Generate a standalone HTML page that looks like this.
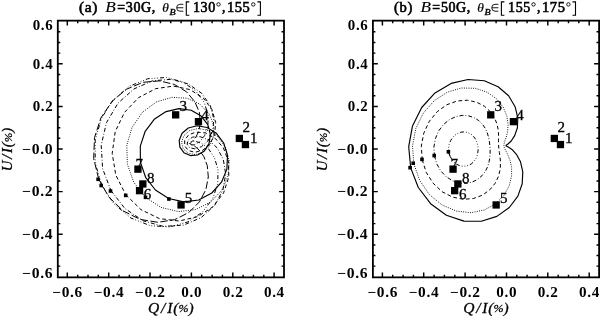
<!DOCTYPE html>
<html><head><meta charset="utf-8"><title>Hanle diagrams</title>
<style>html,body{margin:0;padding:0;background:#fff}svg{display:block;will-change:transform}text{font-family:"Liberation Serif",serif;fill:#000}.b{font-size:13.8px;font-weight:bold;letter-spacing:0.6px}.bi{font-weight:bold;font-style:italic;font-size:13.7px}.ai{font-size:13.9px;font-style:italic;stroke:#000;stroke-width:0.28px}.n{font-size:14.6px;stroke:#000;stroke-width:0.3px}.m{font-size:13.9px;stroke:#000;stroke-width:0.6px;letter-spacing:0.6px}.mi{font-size:13.9px;font-style:italic;stroke:#000;stroke-width:0.12px}</style></head><body>
<svg width="600" height="316" viewBox="0 0 600 316">
<rect x="0" y="0" width="600" height="316" fill="#fff"/>
<g fill="none" stroke="#000" stroke-width="0.9" stroke-linejoin="round">
<polyline points="168.7,198.5 183.7,201.9 198.7,200.0 211.8,193.0 221.5,182.2 226.9,169.1 227.5,155.4 223.7,143.0 216.4,133.3 207.0,127.5 197.1,125.8 188.3,128.0 182.1,133.3 179.2,140.2 179.9,147.2 183.9,152.7 190.3,155.6 197.6,155.0 204.3,150.9 209.0,143.6 210.4,134.4 207.8,124.7 201.2,116.1 191.2,110.3 179.0,108.6 166.1,111.6 154.2,119.3 145.2,131.3 140.3,146.1 140.4,162.1 145.6,177.3 155.4,190.0 168.7,198.5" stroke-width="1.15"/>
<polyline points="145.5,197.3 161.0,207.4 178.4,211.6 195.6,209.6 210.7,202.0 221.9,190.2 228.1,175.7 229.2,160.8 225.4,147.2 217.9,136.7 208.2,130.4 198.2,128.5 189.5,130.6 183.7,135.8 181.6,142.4 183.2,148.8 188.2,153.3 195.4,154.6 203.2,152.1 209.8,145.7 213.7,136.2 213.7,124.9 209.0,113.6 199.8,104.1 187.0,98.2 171.9,97.3 156.3,102.0 142.5,112.2 132.2,127.1 126.8,145.1 127.4,164.3 133.8,182.4 145.5,197.3" stroke-dasharray="0.9 1.4" stroke-width="1.0"/>
<polyline points="125.7,194.6 140.9,209.6 159.4,218.6 179.0,221.0 197.6,216.7 212.9,206.8 223.6,192.9 228.8,177.0 228.5,161.4 223.4,147.9 215.1,138.2 205.3,132.9 195.9,132.1 188.6,134.9 184.7,140.1 184.7,145.9 188.3,150.5 194.8,152.3 202.5,150.4 209.7,144.4 214.6,134.8 215.7,122.6 212.0,109.7 203.3,98.0 190.0,89.6 173.5,86.1 155.6,88.7 138.5,97.7 124.4,112.5 115.2,131.7 112.2,153.4 115.8,175.1 125.7,194.6" stroke-dasharray="3.7 2.7" stroke-width="1.0"/>
<polyline points="110.9,190.5 124.9,208.5 143.1,220.8 163.5,226.4 183.5,225.1 201.2,217.6 214.7,205.3 222.9,190.0 225.7,174.1 223.3,159.4 217.1,147.8 208.8,140.1 200.1,136.7 192.7,137.1 188.2,140.1 187.1,144.2 189.6,147.6 194.8,148.8 201.5,146.7 208.1,140.6 212.8,131.0 213.8,118.8 210.3,105.5 201.6,93.2 188.3,83.9 171.3,79.3 152.5,80.8 134.0,88.9 118.0,103.2 106.5,122.6 101.2,145.2 102.6,168.6 110.9,190.5" stroke-dasharray="4 2 0.8 2" stroke-width="1.0"/>
<polyline points="101.7,185.2 114.1,204.1 130.9,218.0 150.2,225.7 169.9,226.9 187.9,221.9 202.6,212.0 212.7,198.6 217.7,183.9 218.0,169.6 214.4,157.5 208.3,148.5 201.3,143.2 195.1,141.2 190.8,141.8 189.3,143.5 190.7,145.0 194.5,144.8 199.6,141.8 204.6,135.6 207.9,126.4 208.1,114.8 204.2,102.4 195.6,90.8 182.6,81.9 166.2,77.5 147.9,78.7 129.7,86.1 113.6,99.5 101.6,118.0 95.2,139.9 95.2,163.1 101.7,185.2" stroke-dasharray="4 2 0.8 2 0.8 2 0.8 2" stroke-width="1.0"/>
<polyline points="98.7,179.1 108.9,197.1 123.2,210.9 140.1,219.4 157.8,222.3 174.6,219.7 188.8,212.5 199.4,201.9 205.9,189.6 208.3,177.0 207.3,165.7 203.8,156.5 199.2,150.1 194.7,146.2 191.4,144.4 189.9,143.7 190.5,142.9 192.7,141.0 195.9,137.1 198.9,130.9 200.4,122.3 199.3,112.1 194.7,101.5 186.4,91.7 174.3,84.4 159.5,80.9 143.0,82.3 126.6,89.2 112.0,101.3 100.9,117.9 94.5,137.6 93.7,158.7 98.7,179.1" stroke-dasharray="7.5 2.5" stroke-width="1.0"/>
</g>
<rect x="57.8" y="20.65" width="226.2" height="256.7" fill="none" stroke="#000" stroke-width="1.8"/>
<path d="M67.3,277.35v-4.9M67.3,20.65v4.9M77.7,277.35v-2.5M77.7,20.65v2.5M88.0,277.35v-2.5M88.0,20.65v2.5M98.3,277.35v-2.5M98.3,20.65v2.5M108.7,277.35v-4.9M108.7,20.65v4.9M119.0,277.35v-2.5M119.0,20.65v2.5M129.4,277.35v-2.5M129.4,20.65v2.5M139.7,277.35v-2.5M139.7,20.65v2.5M150.0,277.35v-4.9M150.0,20.65v4.9M160.4,277.35v-2.5M160.4,20.65v2.5M170.7,277.35v-2.5M170.7,20.65v2.5M181.1,277.35v-2.5M181.1,20.65v2.5M191.4,277.35v-4.9M191.4,20.65v4.9M201.7,277.35v-2.5M201.7,20.65v2.5M212.1,277.35v-2.5M212.1,20.65v2.5M222.4,277.35v-2.5M222.4,20.65v2.5M232.8,277.35v-4.9M232.8,20.65v4.9M243.1,277.35v-2.5M243.1,20.65v2.5M253.4,277.35v-2.5M253.4,20.65v2.5M263.8,277.35v-2.5M263.8,20.65v2.5M274.1,277.35v-4.9M274.1,20.65v4.9M57.8,266.1h2.5M284.0,266.1h-2.5M57.8,255.5h2.5M284.0,255.5h-2.5M57.8,244.9h2.5M284.0,244.9h-2.5M57.8,234.2h4.9M284.0,234.2h-4.9M57.8,223.6h2.5M284.0,223.6h-2.5M57.8,212.9h2.5M284.0,212.9h-2.5M57.8,202.2h2.5M284.0,202.2h-2.5M57.8,191.6h4.9M284.0,191.6h-4.9M57.8,181.0h2.5M284.0,181.0h-2.5M57.8,170.3h2.5M284.0,170.3h-2.5M57.8,159.7h2.5M284.0,159.7h-2.5M57.8,149.0h4.9M284.0,149.0h-4.9M57.8,138.3h2.5M284.0,138.3h-2.5M57.8,127.7h2.5M284.0,127.7h-2.5M57.8,117.0h2.5M284.0,117.0h-2.5M57.8,106.4h4.9M284.0,106.4h-4.9M57.8,95.8h2.5M284.0,95.8h-2.5M57.8,85.1h2.5M284.0,85.1h-2.5M57.8,74.4h2.5M284.0,74.4h-2.5M57.8,63.8h4.9M284.0,63.8h-4.9M57.8,53.1h2.5M284.0,53.1h-2.5M57.8,42.5h2.5M284.0,42.5h-2.5M57.8,31.8h2.5M284.0,31.8h-2.5" stroke="#000" stroke-width="1.45" fill="none"/>
<text x="67.6" y="296.6" class="b" text-anchor="middle" textLength="30.6" lengthAdjust="spacingAndGlyphs">−0.6</text>
<text x="109.0" y="296.6" class="b" text-anchor="middle" textLength="30.6" lengthAdjust="spacingAndGlyphs">−0.4</text>
<text x="150.3" y="296.6" class="b" text-anchor="middle" textLength="30.6" lengthAdjust="spacingAndGlyphs">−0.2</text>
<text x="191.7" y="296.6" class="b" text-anchor="middle" textLength="20.9" lengthAdjust="spacingAndGlyphs">0.0</text>
<text x="233.1" y="296.6" class="b" text-anchor="middle" textLength="20.9" lengthAdjust="spacingAndGlyphs">0.2</text>
<text x="274.4" y="296.6" class="b" text-anchor="middle" textLength="20.9" lengthAdjust="spacingAndGlyphs">0.4</text>
<text x="53.3" y="30.0" class="b" text-anchor="end" textLength="20.6" lengthAdjust="spacingAndGlyphs">0.6</text>
<text x="53.3" y="68.6" class="b" text-anchor="end" textLength="20.6" lengthAdjust="spacingAndGlyphs">0.4</text>
<text x="53.3" y="111.2" class="b" text-anchor="end" textLength="20.6" lengthAdjust="spacingAndGlyphs">0.2</text>
<text x="53.3" y="153.8" class="b" text-anchor="end" textLength="31.2" lengthAdjust="spacingAndGlyphs">−0.0</text>
<text x="53.3" y="196.4" class="b" text-anchor="end" textLength="31.2" lengthAdjust="spacingAndGlyphs">−0.2</text>
<text x="53.3" y="239.0" class="b" text-anchor="end" textLength="31.2" lengthAdjust="spacingAndGlyphs">−0.4</text>
<text x="53.3" y="277.6" class="b" text-anchor="end" textLength="31.2" lengthAdjust="spacingAndGlyphs">−0.6</text>
<text x="170.9" y="312.6" class="ai" text-anchor="middle" textLength="45.6" lengthAdjust="spacingAndGlyphs">Q<tspan dx="1.6">/</tspan><tspan dx="1.6">I</tspan><tspan dx="0.8">(</tspan><tspan font-size="10.8" dy="-0.4">%</tspan><tspan dy="0.4">)</tspan></text>
<text class="ai" text-anchor="middle" textLength="43.4" lengthAdjust="spacingAndGlyphs" transform="translate(12.2,149.5) rotate(-90)">U<tspan dx="1.6">/</tspan><tspan dx="1.6">I</tspan><tspan dx="0.8">(</tspan><tspan font-size="10.8" dy="-0.4">%</tspan><tspan dy="0.4">)</tspan></text>
<text x="79.0" y="11.7" class="m" textLength="18.9" lengthAdjust="spacingAndGlyphs">(a)</text>
<text x="105.3" y="11.7" class="mi" textLength="10.5" lengthAdjust="spacingAndGlyphs">B</text>
<text x="117.2" y="11.7" class="m" textLength="8.4" lengthAdjust="spacingAndGlyphs">=</text>
<text x="125.8" y="11.7" class="m" textLength="30.0" lengthAdjust="spacingAndGlyphs">30G,</text>
<text x="162.2" y="11.7" style="font-style:italic;font-size:11.5px;stroke:#000;stroke-width:0.2px" textLength="6.6" lengthAdjust="spacingAndGlyphs">θ</text>
<text x="169.5" y="15.0" style="font-style:italic;font-size:8.4px;stroke:#000;stroke-width:0.35px" textLength="6.1" lengthAdjust="spacingAndGlyphs">B</text>
<path d="M183.3,4.3h-3.4a3.2,3.4 0 0 0 0,6.9h3.4M176.8,7.75h6.5" fill="none" stroke="#000" stroke-width="0.9"/>
<path d="M189.3,1.9h-3v13.4h3" fill="none" stroke="#000" stroke-width="1.1"/>
<text x="193.0" y="11.7" class="m" textLength="22.8" lengthAdjust="spacingAndGlyphs">130</text>
<circle cx="218.5" cy="4.4" r="1.7" fill="none" stroke="#000" stroke-width="0.9"/>
<text x="222.0" y="11.7" class="m" textLength="4.0" lengthAdjust="spacingAndGlyphs">,</text>
<text x="226.9" y="11.7" class="m" textLength="23.6" lengthAdjust="spacingAndGlyphs">155</text>
<circle cx="253.3" cy="4.4" r="1.7" fill="none" stroke="#000" stroke-width="0.9"/>
<path d="M257.4,1.9h3v13.4h-3" fill="none" stroke="#000" stroke-width="1.1"/>
<text x="250.0" y="143.2" class="n" textLength="7.5" lengthAdjust="spacingAndGlyphs">1</text>
<text x="242.4" y="132.0" class="n" textLength="7.5" lengthAdjust="spacingAndGlyphs">2</text>
<text x="179.5" y="111.0" class="n" textLength="7.5" lengthAdjust="spacingAndGlyphs">3</text>
<text x="201.2" y="119.5" class="n" textLength="7.5" lengthAdjust="spacingAndGlyphs">4</text>
<text x="184.8" y="202.7" class="n" textLength="7.5" lengthAdjust="spacingAndGlyphs">5</text>
<text x="143.8" y="199.1" class="n" textLength="7.5" lengthAdjust="spacingAndGlyphs">6</text>
<text x="135.6" y="168.9" class="n" textLength="7.5" lengthAdjust="spacingAndGlyphs">7</text>
<text x="147.1" y="182.8" class="n" textLength="7.5" lengthAdjust="spacingAndGlyphs">8</text>
<rect x="241.8" y="140.9" width="7.3" height="7.3" fill="#000"/>
<rect x="235.7" y="134.8" width="7.3" height="7.3" fill="#000"/>
<rect x="172.0" y="111.2" width="7.3" height="7.3" fill="#000"/>
<rect x="194.8" y="118.0" width="7.3" height="7.3" fill="#000"/>
<rect x="177.4" y="201.3" width="7.3" height="7.3" fill="#000"/>
<rect x="135.9" y="187.0" width="7.3" height="7.3" fill="#000"/>
<rect x="134.3" y="165.5" width="7.3" height="7.3" fill="#000"/>
<rect x="139.2" y="180.3" width="7.3" height="7.3" fill="#000"/>
<rect x="167.1" y="197.2" width="3.6" height="3.6" fill="#000"/>
<rect x="143.7" y="195.5" width="3.6" height="3.6" fill="#000"/>
<rect x="123.9" y="193.6" width="3.6" height="3.6" fill="#000"/>
<rect x="108.7" y="189.2" width="3.6" height="3.6" fill="#000"/>
<rect x="99.4" y="183.7" width="3.6" height="3.6" fill="#000"/>
<rect x="96.3" y="177.5" width="3.6" height="3.6" fill="#000"/>
<g fill="none" stroke="#000" stroke-width="0.9" stroke-linejoin="round">
<polyline points="410.7,167.9 418.3,187.5 430.6,203.7 446.4,215.2 463.9,221.1 481.3,221.3 496.9,216.4 509.3,207.5 517.9,196.1 522.2,183.7 522.8,171.8 520.5,161.8 516.4,154.3 512.0,149.4 508.2,146.9 506.1,145.9 506.1,145.3 508.0,144.0 511.2,141.0 514.7,135.6 517.4,127.7 517.8,117.8 515.1,106.7 508.6,95.8 498.1,86.7 484.3,80.8 468.1,79.5 451.1,83.4 435.0,92.9 421.7,107.5 412.5,125.9 408.7,146.7 410.7,167.9" stroke-width="1.15"/>
<polyline points="413.8,163.8 419.7,180.5 429.4,194.6 442.1,205.0 456.4,211.1 470.9,212.7 484.3,210.0 495.5,203.9 503.9,195.5 509.2,185.8 511.6,176.1 511.6,167.2 509.9,159.9 507.6,154.3 505.5,150.2 504.1,147.2 503.9,144.5 504.7,141.4 506.2,137.3 507.6,131.6 508.1,124.4 506.9,116.1 503.2,107.2 496.6,98.9 487.1,92.2 475.2,88.3 461.6,88.0 447.5,92.1 434.4,100.5 423.4,113.0 415.8,128.5 412.5,146.0 413.8,163.8" stroke-dasharray="0.9 1.4" stroke-width="1.0"/>
<polyline points="422.2,159.6 426.2,172.3 433.1,183.2 442.1,191.7 452.5,197.1 463.3,199.3 473.5,198.5 482.6,195.1 489.9,189.7 495.2,183.2 498.6,176.1 500.2,169.2 500.5,162.8 500.1,157.3 499.4,152.6 498.8,148.4 498.6,144.5 498.5,140.3 498.6,135.7 498.3,130.4 497.1,124.4 494.7,118.1 490.5,111.8 484.5,106.3 476.7,102.2 467.3,100.2 457.1,101.0 446.7,104.8 437.2,111.7 429.3,121.3 423.8,133.1 421.3,146.2 422.2,159.6" stroke-dasharray="3.7 2.7" stroke-width="1.0"/>
<polyline points="434.4,155.6 436.7,163.8 440.8,171.0 446.2,176.7 452.6,180.8 459.3,183.0 466.0,183.4 472.2,182.1 477.6,179.4 482.0,175.7 485.3,171.4 487.6,166.8 489.0,162.1 489.8,157.6 490.1,153.3 490.1,149.2 489.8,145.2 489.3,141.1 488.5,137.0 487.2,132.7 485.3,128.4 482.5,124.3 478.8,120.6 474.1,117.7 468.5,115.8 462.2,115.4 455.7,116.7 449.2,119.8 443.4,124.6 438.6,131.0 435.4,138.7 433.9,147.1 434.4,155.6" stroke-dasharray="4 2 0.8 2" stroke-width="1.0"/>
<polyline points="448.8,152.0 449.8,155.8 451.5,159.2 453.8,162.0 456.5,164.2 459.6,165.6 462.7,166.2 465.7,166.1 468.6,165.3 471.2,164.0 473.3,162.1 475.1,159.9 476.5,157.5 477.4,154.8 477.9,152.1 478.1,149.4 478.0,146.7 477.5,144.0 476.6,141.4 475.4,139.0 473.8,136.8 471.9,134.8 469.5,133.3 466.9,132.3 463.9,131.9 460.9,132.2 457.9,133.3 455.0,135.1 452.5,137.6 450.6,140.7 449.2,144.3 448.6,148.1 448.8,152.0" stroke-dasharray="4 2 0.8 2 0.8 2 0.8 2" stroke-width="1.0"/>
</g>
<rect x="372.9" y="20.65" width="226.2" height="256.7" fill="none" stroke="#000" stroke-width="1.8"/>
<path d="M382.4,277.35v-4.9M382.4,20.65v4.9M392.7,277.35v-2.5M392.7,20.65v2.5M403.1,277.35v-2.5M403.1,20.65v2.5M413.4,277.35v-2.5M413.4,20.65v2.5M423.7,277.35v-4.9M423.7,20.65v4.9M434.1,277.35v-2.5M434.1,20.65v2.5M444.4,277.35v-2.5M444.4,20.65v2.5M454.8,277.35v-2.5M454.8,20.65v2.5M465.1,277.35v-4.9M465.1,20.65v4.9M475.4,277.35v-2.5M475.4,20.65v2.5M485.8,277.35v-2.5M485.8,20.65v2.5M496.1,277.35v-2.5M496.1,20.65v2.5M506.5,277.35v-4.9M506.5,20.65v4.9M516.8,277.35v-2.5M516.8,20.65v2.5M527.1,277.35v-2.5M527.1,20.65v2.5M537.5,277.35v-2.5M537.5,20.65v2.5M547.8,277.35v-4.9M547.8,20.65v4.9M558.2,277.35v-2.5M558.2,20.65v2.5M568.5,277.35v-2.5M568.5,20.65v2.5M578.8,277.35v-2.5M578.8,20.65v2.5M589.2,277.35v-4.9M589.2,20.65v4.9M372.9,266.1h2.5M599.0,266.1h-2.5M372.9,255.5h2.5M599.0,255.5h-2.5M372.9,244.9h2.5M599.0,244.9h-2.5M372.9,234.2h4.9M599.0,234.2h-4.9M372.9,223.6h2.5M599.0,223.6h-2.5M372.9,212.9h2.5M599.0,212.9h-2.5M372.9,202.2h2.5M599.0,202.2h-2.5M372.9,191.6h4.9M599.0,191.6h-4.9M372.9,181.0h2.5M599.0,181.0h-2.5M372.9,170.3h2.5M599.0,170.3h-2.5M372.9,159.7h2.5M599.0,159.7h-2.5M372.9,149.0h4.9M599.0,149.0h-4.9M372.9,138.3h2.5M599.0,138.3h-2.5M372.9,127.7h2.5M599.0,127.7h-2.5M372.9,117.0h2.5M599.0,117.0h-2.5M372.9,106.4h4.9M599.0,106.4h-4.9M372.9,95.8h2.5M599.0,95.8h-2.5M372.9,85.1h2.5M599.0,85.1h-2.5M372.9,74.4h2.5M599.0,74.4h-2.5M372.9,63.8h4.9M599.0,63.8h-4.9M372.9,53.1h2.5M599.0,53.1h-2.5M372.9,42.5h2.5M599.0,42.5h-2.5M372.9,31.8h2.5M599.0,31.8h-2.5" stroke="#000" stroke-width="1.45" fill="none"/>
<text x="382.7" y="296.6" class="b" text-anchor="middle" textLength="30.6" lengthAdjust="spacingAndGlyphs">−0.6</text>
<text x="424.0" y="296.6" class="b" text-anchor="middle" textLength="30.6" lengthAdjust="spacingAndGlyphs">−0.4</text>
<text x="465.4" y="296.6" class="b" text-anchor="middle" textLength="30.6" lengthAdjust="spacingAndGlyphs">−0.2</text>
<text x="506.8" y="296.6" class="b" text-anchor="middle" textLength="20.9" lengthAdjust="spacingAndGlyphs">0.0</text>
<text x="548.1" y="296.6" class="b" text-anchor="middle" textLength="20.9" lengthAdjust="spacingAndGlyphs">0.2</text>
<text x="589.5" y="296.6" class="b" text-anchor="middle" textLength="20.9" lengthAdjust="spacingAndGlyphs">0.4</text>
<text x="368.4" y="30.0" class="b" text-anchor="end" textLength="20.6" lengthAdjust="spacingAndGlyphs">0.6</text>
<text x="368.4" y="68.6" class="b" text-anchor="end" textLength="20.6" lengthAdjust="spacingAndGlyphs">0.4</text>
<text x="368.4" y="111.2" class="b" text-anchor="end" textLength="20.6" lengthAdjust="spacingAndGlyphs">0.2</text>
<text x="368.4" y="153.8" class="b" text-anchor="end" textLength="31.2" lengthAdjust="spacingAndGlyphs">−0.0</text>
<text x="368.4" y="196.4" class="b" text-anchor="end" textLength="31.2" lengthAdjust="spacingAndGlyphs">−0.2</text>
<text x="368.4" y="239.0" class="b" text-anchor="end" textLength="31.2" lengthAdjust="spacingAndGlyphs">−0.4</text>
<text x="368.4" y="277.6" class="b" text-anchor="end" textLength="31.2" lengthAdjust="spacingAndGlyphs">−0.6</text>
<text x="486.0" y="312.6" class="ai" text-anchor="middle" textLength="45.6" lengthAdjust="spacingAndGlyphs">Q<tspan dx="1.6">/</tspan><tspan dx="1.6">I</tspan><tspan dx="0.8">(</tspan><tspan font-size="10.8" dy="-0.4">%</tspan><tspan dy="0.4">)</tspan></text>
<text class="ai" text-anchor="middle" textLength="43.4" lengthAdjust="spacingAndGlyphs" transform="translate(327.2,149.5) rotate(-90)">U<tspan dx="1.6">/</tspan><tspan dx="1.6">I</tspan><tspan dx="0.8">(</tspan><tspan font-size="10.8" dy="-0.4">%</tspan><tspan dy="0.4">)</tspan></text>
<text x="394.1" y="11.7" class="m" textLength="18.9" lengthAdjust="spacingAndGlyphs">(b)</text>
<text x="420.4" y="11.7" class="mi" textLength="10.5" lengthAdjust="spacingAndGlyphs">B</text>
<text x="432.2" y="11.7" class="m" textLength="8.4" lengthAdjust="spacingAndGlyphs">=</text>
<text x="440.9" y="11.7" class="m" textLength="30.0" lengthAdjust="spacingAndGlyphs">50G,</text>
<text x="477.2" y="11.7" style="font-style:italic;font-size:11.5px;stroke:#000;stroke-width:0.2px" textLength="6.6" lengthAdjust="spacingAndGlyphs">θ</text>
<text x="484.6" y="15.0" style="font-style:italic;font-size:8.4px;stroke:#000;stroke-width:0.35px" textLength="6.1" lengthAdjust="spacingAndGlyphs">B</text>
<path d="M498.4,4.3h-3.4a3.2,3.4 0 0 0 0,6.9h3.4M491.9,7.75h6.5" fill="none" stroke="#000" stroke-width="0.9"/>
<path d="M504.4,1.9h-3v13.4h3" fill="none" stroke="#000" stroke-width="1.1"/>
<text x="508.1" y="11.7" class="m" textLength="22.8" lengthAdjust="spacingAndGlyphs">155</text>
<circle cx="533.5" cy="4.4" r="1.7" fill="none" stroke="#000" stroke-width="0.9"/>
<text x="537.0" y="11.7" class="m" textLength="4.0" lengthAdjust="spacingAndGlyphs">,</text>
<text x="542.0" y="11.7" class="m" textLength="23.6" lengthAdjust="spacingAndGlyphs">175</text>
<circle cx="568.4" cy="4.4" r="1.7" fill="none" stroke="#000" stroke-width="0.9"/>
<path d="M572.5,1.9h3v13.4h-3" fill="none" stroke="#000" stroke-width="1.1"/>
<text x="565.0" y="143.2" class="n" textLength="7.5" lengthAdjust="spacingAndGlyphs">1</text>
<text x="557.5" y="132.0" class="n" textLength="7.5" lengthAdjust="spacingAndGlyphs">2</text>
<text x="494.6" y="111.0" class="n" textLength="7.5" lengthAdjust="spacingAndGlyphs">3</text>
<text x="516.2" y="119.5" class="n" textLength="7.5" lengthAdjust="spacingAndGlyphs">4</text>
<text x="499.9" y="202.7" class="n" textLength="7.5" lengthAdjust="spacingAndGlyphs">5</text>
<text x="458.9" y="199.1" class="n" textLength="7.5" lengthAdjust="spacingAndGlyphs">6</text>
<text x="450.6" y="168.9" class="n" textLength="7.5" lengthAdjust="spacingAndGlyphs">7</text>
<text x="462.1" y="182.8" class="n" textLength="7.5" lengthAdjust="spacingAndGlyphs">8</text>
<rect x="556.8" y="140.9" width="7.3" height="7.3" fill="#000"/>
<rect x="550.7" y="134.8" width="7.3" height="7.3" fill="#000"/>
<rect x="487.1" y="111.2" width="7.3" height="7.3" fill="#000"/>
<rect x="509.8" y="118.0" width="7.3" height="7.3" fill="#000"/>
<rect x="492.5" y="201.3" width="7.3" height="7.3" fill="#000"/>
<rect x="451.0" y="187.0" width="7.3" height="7.3" fill="#000"/>
<rect x="449.4" y="165.5" width="7.3" height="7.3" fill="#000"/>
<rect x="454.2" y="180.3" width="7.3" height="7.3" fill="#000"/>
<rect x="408.3" y="165.9" width="3.6" height="3.6" fill="#000"/>
<rect x="411.4" y="161.4" width="3.6" height="3.6" fill="#000"/>
<rect x="420.2" y="157.6" width="3.6" height="3.6" fill="#000"/>
<rect x="432.4" y="153.8" width="3.6" height="3.6" fill="#000"/>
<rect x="446.6" y="150.0" width="3.6" height="3.6" fill="#000"/>
<path d="M448.6,152.5L450.2,156.5L451.6,158.8" stroke="#000" stroke-width="1" fill="none"/>
</svg></body></html>
